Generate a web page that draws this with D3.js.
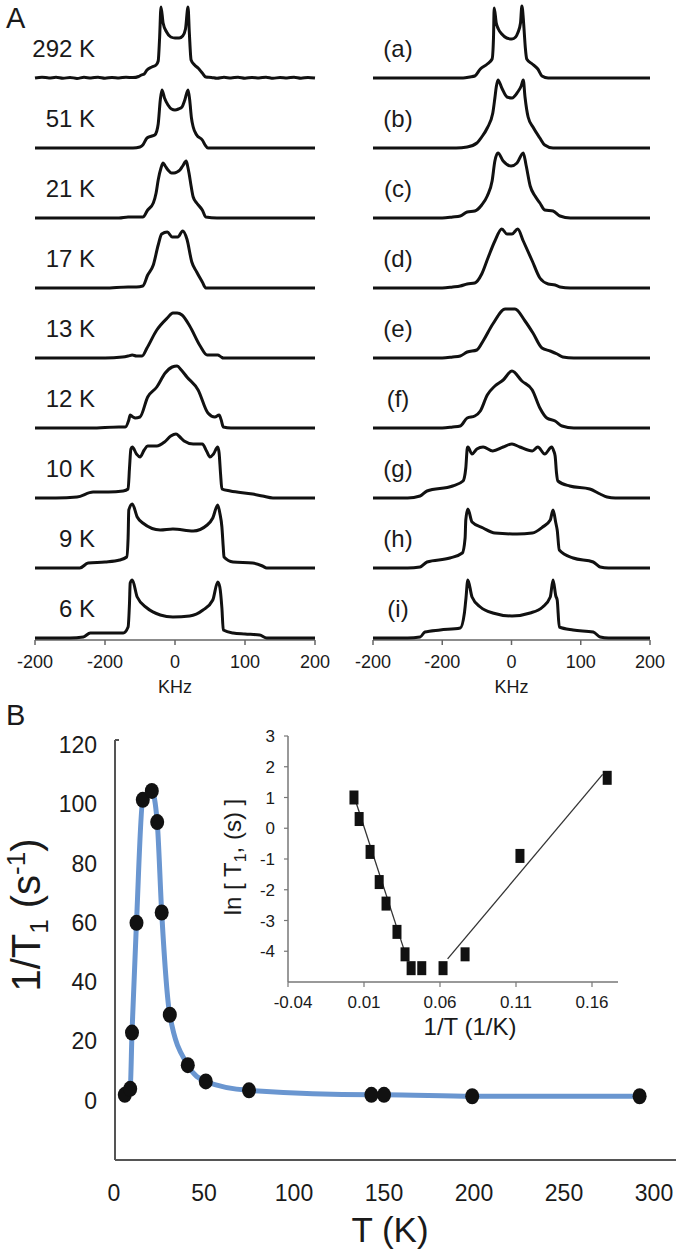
<!DOCTYPE html>
<html><head><meta charset="utf-8">
<script src="https://cdn.jsdelivr.net/npm/d3@7"></script>
<style>
body{margin:0;background:#fff}
svg{display:block}
text{font-family:"Liberation Sans",Arial,Helvetica,sans-serif;fill:#1a1a1a}
</style>
</head><body>
<svg id="c" width="680" height="1257"></svg>
<script>
// ---------- DATA ----------
const tempLabels = ["292 K","51 K","21 K","17 K","13 K","12 K","10 K","9 K","6 K"];
const simLabels = ["(a)","(b)","(c)","(d)","(e)","(f)","(g)","(h)","(i)"];
const kHzTicks = [-200,-100,0,100,200];
const kHzTickLabels = ["-200","-200","0","100","200"];
const kHzTitle = "KHz";

// experimental spectra: [frequency kHz, intensity a.u.]
const spec292 = [[-200,0],[-190,0.8],[-180,0],[-170,0.7],[-160,-0.3],[-150,0.6],[-140,-0.4],[-130,0.7],[-120,0],[-110,0.8],[-100,-0.2],[-90,0.6],[-80,0],[-70,0.8],[-60,0.4],[-52,1.5],[-48,3],[-44,4],[-40,8],[-33,11],[-27,13],[-24,17],[-22,40],[-20,71],[-17,55],[-12,46],[-6,41],[0,40],[6,40],[11,42],[15,49],[18.6,71],[20.5,45],[23,18],[28,13],[33,10],[39,5],[44,1],[52,0.6],[60,-0.3],[70,0.7],[80,0],[90,0.8],[100,-0.2],[110,0.6],[120,0],[130,0.8],[140,-0.3],[150,0.6],[160,0],[170,0.8],[180,-0.2],[190,0.6],[200,0]];
const spec51 = [[-200,0],[-150,0],[-100,0],[-60,0],[-50,1],[-46,3],[-40,10],[-33,12],[-29,13],[-26,17],[-24,24],[-21,48],[-18.6,58],[-15,50],[-10,43],[-5,39],[0,38],[5,39],[10,41],[14,48],[18.6,58],[21,48],[23.5,30],[26,21],[31,13],[39,8],[43,3],[47,0],[60,0],[100,0],[150,0],[200,0]];
const spec21 = [[-200,0],[-120,0],[-80,0],[-67,1],[-55,1],[-46,1],[-39,8],[-31,15],[-27,25],[-24,38],[-20,50],[-17,55],[-14,52],[-10,48],[-5,45],[-1.4,45],[3,46],[7,48],[11,52],[16,57],[18,52],[20,45],[23,32],[26,21],[31,15],[39,8],[44,1],[60,0],[100,0],[200,0]];
const spec17 = [[-200,0],[-100,0],[-67,1],[-55,1],[-46,2],[-39,13],[-31,23],[-24,43],[-19,54],[-11,56],[-4,51],[0,51],[4,51],[11,57],[17,49],[24,26],[31,16],[39,6],[44,0],[60,0],[200,0]];
const spec13 = [[-200,0],[-100,0],[-75,1],[-67,2],[-61,3],[-55,2],[-47,2],[-40,10],[-26,28],[-11,40],[-3,45],[3,45],[10,43],[21,32],[36,12],[46,3],[55,3],[61,3],[66,1],[69,0],[100,0],[200,0]];
const spec12 = [[-200,0],[-120,0],[-80,1],[-71,1],[-66,8],[-64,13],[-60,11],[-57,10],[-50,11],[-39,31],[-26,41],[-14,55],[-4,61],[3,62],[9,58],[17,51],[33,38],[47,15],[57,11],[63,13],[66,8],[69,1],[80,0],[120,0],[200,0]];
const spec10 = [[-200,0],[-170,0],[-140,1],[-117,6],[-95,6],[-74,7],[-67,9],[-65,30],[-63,49],[-61,51],[-55,44],[-50,41],[-44,48],[-39,52],[-26,52],[-15,56],[-6,62],[1.4,64],[7,61],[13,57],[26,54],[39,54],[45,47],[50,41],[55,44],[61,51],[63,45],[65,25],[67,9],[79,7],[111,4],[125,2],[140,0],[200,0]];
const spec9 = [[-200,0],[-150,0],[-136,0],[-124,5],[-100,6],[-79,8],[-69,11],[-67,30],[-66,58],[-61,64],[-54,51],[-46,45],[-21,38],[-3,39],[26,37],[46,43],[54,50],[61,63],[64,55],[67,41],[69,20],[70,11],[83,6],[111,5],[125,2],[131,0],[200,0]];
const spec6 = [[-200,0],[-150,0],[-131,1],[-121,5],[-100,5],[-74,5],[-67,11],[-65,35],[-64,55],[-61,58],[-54,41],[-40,30],[-21,23],[-3,21],[21,22],[40,28],[54,38],[61,56],[64,51],[67,30],[69,8],[83,5],[100,4],[121,3],[131,0],[200,0]];
const expSpectra = [spec292, spec51, spec21, spec17, spec13, spec12, spec10, spec9, spec6];

// simulated spectra
const simA = [[-200,0],[-100,0],[-70,0],[-60,1],[-53,2],[-45,9],[-35,14],[-28,19],[-26,40],[-25,70],[-22,55],[-19,49],[-14,44],[-7,40],[0.7,39],[6,41],[9,45],[13,55],[15,72],[17,60],[18,50],[20,30],[22,19],[30,14],[38,9],[44,2],[53,0],[100,0],[200,0]];
const simB = [[-200,0],[-100,0],[-80,0],[-64,1],[-50,5],[-43,11],[-35,20],[-27,35],[-24,50],[-22,61],[-19.5,68],[-14,60],[-6.5,51],[0.7,50],[9,56],[14,62],[17,68],[19.5,51],[24,31],[31,21],[41,10],[48,3],[60,0],[100,0],[200,0]];
const simC = [[-200,0],[-100,0],[-85,1],[-74,2],[-64,6],[-53,7],[-43,13],[-35,22],[-28,37],[-24,57],[-19.5,65],[-12,57],[-0.7,52],[8,55],[17,65],[21,53],[27,32],[34,22],[41,15],[48,8],[60,7],[70,2],[85,0],[200,0]];
const simD = [[-200,0],[-100,0],[-85,1],[-74,2],[-64,4],[-53,5],[-43,14],[-34,30],[-24,47],[-14,59],[-6.5,54],[0.7,54],[9,59],[17,47],[30,27],[41,10],[53,4],[63,3],[70,1],[85,0],[200,0]];
const simE = [[-200,0],[-100,0],[-85,1],[-74,2],[-64,6],[-50,8],[-41,17],[-27,34],[-9,49],[5,49],[19.5,37],[31,25],[44,10],[56,7],[66,4],[74,1],[90,0],[200,0]];
const simF = [[-200,0],[-100,0],[-85,1],[-74,2],[-64,10],[-53,12],[-45,17],[-35,33],[-24,42],[-12,48],[0.7,57],[15,47],[30,38],[41,20],[51,10],[63,7],[73,2],[90,0],[200,0]];
const simG = [[-200,0],[-150,0],[-132,2],[-122,7],[-85,12],[-70,17],[-66,30],[-64,49],[-63,51],[-57,44],[-50,49],[-41,51],[-27,47],[-12,51],[0.7,54],[12,51],[30,47],[38,51],[48,44],[58,51],[61,47],[63,42],[65,25],[67,17],[84,12],[113,9],[128,4],[138,1],[150,0],[200,0]];
const simH = [[-200,0],[-150,0],[-132,1],[-122,6],[-89,10],[-71,15],[-67,30],[-66,48],[-63,59],[-57,46],[-41,40],[-24,35],[8,34],[30,35],[45,41],[56,48],[60,58],[64,45],[66,38],[69,18],[89,10],[118,6],[128,1],[140,0],[200,0]];
const simI = [[-200,0],[-150,0],[-132,1],[-125,6],[-103,8],[-74,10],[-68,25],[-66,38],[-63,58],[-57,41],[-45,31],[-27,25],[0.7,22],[27,25],[45,31],[56,41],[60,58],[64,42],[66,38],[69,11],[89,8],[118,6],[128,1],[140,0],[200,0]];
const simSpectra = [simA, simB, simC, simD, simE, simF, simG, simH, simI];

// panel B main: T (K) vs 1/T1 (s^-1)
const tempK = [6, 9, 10, 12.5, 16, 21, 24, 26.5, 31, 41, 51, 75, 143, 150, 199, 292];
const invT1 = [2, 4, 23, 60, 101.5, 104.5, 94, 63.5, 29, 12, 6.5, 3.5, 2, 2, 1.5, 1.5];
const mainXTicks = [0,50,100,150,200,250,300];
const mainYTicks = [0,20,40,60,80,100,120];

// inset: 1/T (1/K) vs ln[T1 (s)]
const invT = [0.0034, 0.0068, 0.014, 0.020, 0.0245, 0.0317, 0.037, 0.041, 0.048, 0.062, 0.0765, 0.1126, 0.170];
const lnT1 = [1.0, 0.3, -0.77, -1.75, -2.45, -3.37, -4.1, -4.55, -4.55, -4.55, -4.1, -0.9, 1.64];
const fitLow = [[0.0034, 1.05], [0.038, -4.2]];
const fitHigh = [[0.065, -4.25], [0.167, 1.75]];
const insetXTicks = [-0.04, 0.01, 0.06, 0.11, 0.16];
const insetYTicks = [-4,-3,-2,-1,0,1,2,3];

// ---------- DRAW ----------
const svg = d3.select("#c");
svg.append("rect").attr("width",680).attr("height",1257).attr("fill","#fff");

// Panel letters
svg.append("text").attr("x",6).attr("y",28).attr("font-size",29).text("A");
svg.append("text").attr("x",6).attr("y",725).attr("font-size",29).text("B");

// ---- Panel A ----
const rowY = d3.scaleLinear().domain([0, 8]).range([78, 638]);
const hScale = d3.scaleLinear().domain([0, 70]).range([0, 70]);
const cols = [
  {x: d3.scaleLinear().domain([-200,200]).range([35,315]), data: expSpectra, labels: tempLabels, labelX: 95, anchor: "end"},
  {x: d3.scaleLinear().domain([-200,200]).range([373,650]), data: simSpectra, labels: simLabels, labelX: 398, anchor: "middle"}
];
const axYA = 640;
cols.forEach(c => {
  const g = svg.append("g");
  g.append("line").attr("x1", c.x(-200)).attr("x2", c.x(200)).attr("y1", axYA).attr("y2", axYA)
    .attr("stroke","#666").attr("stroke-width",1.5);
  kHzTicks.forEach((t,k) => {
    g.append("line").attr("x1", c.x(t)).attr("x2", c.x(t)).attr("y1", axYA).attr("y2", axYA+5)
      .attr("stroke","#666").attr("stroke-width",1.5);
    g.append("text").attr("x", c.x(t)).attr("y", axYA+28).attr("text-anchor","middle")
      .attr("font-size",18).text(kHzTickLabels[k]);
  });
  g.append("text").attr("x", c.x(0)).attr("y", axYA+53).attr("text-anchor","middle")
    .attr("font-size",18).text(kHzTitle);
  c.data.forEach((spec, i) => {
    const base = rowY(i);
    const line = d3.line().x(d => c.x(d[0])).y(d => base - hScale(d[1])).curve(d3.curveMonotoneX);
    g.append("path").attr("d", line(spec)).attr("fill","none").attr("stroke","#111")
      .attr("stroke-width",3).attr("stroke-linejoin","round");
    g.append("text").attr("x", c.labelX).attr("y", base - 21).attr("text-anchor", c.anchor)
      .attr("font-size",24).text(c.labels[i]);
  });
});

// ---- Panel B main ----
const xM = d3.scaleLinear().domain([0,300]).range([114,654]);
const yM = d3.scaleLinear().domain([-20,120]).range([1160,745]);
const gB = svg.append("g");
gB.append("line").attr("x1",115).attr("x2",115).attr("y1",740).attr("y2",yM(-20))
  .attr("stroke","#555").attr("stroke-width",2);
gB.append("line").attr("x1",115).attr("x2",119).attr("y1",740).attr("y2",740)
  .attr("stroke","#555").attr("stroke-width",2);
gB.append("line").attr("x1",115).attr("x2",676).attr("y1",yM(-20)).attr("y2",yM(-20))
  .attr("stroke","#555").attr("stroke-width",2);
mainYTicks.forEach(t => {
  gB.append("text").attr("x",97).attr("y",yM(t)+8).attr("text-anchor","end")
    .attr("font-size",23).text(t);
});
mainXTicks.forEach(t => {
  gB.append("text").attr("x",xM(t)).attr("y",1201).attr("text-anchor","middle")
    .attr("font-size",23).text(t);
});
gB.append("text").attr("x",390).attr("y",1242).attr("text-anchor","middle")
  .attr("font-size",35).text("T (K)");
const yl = gB.append("text").attr("transform","translate(40,915) rotate(-90)")
  .attr("text-anchor","middle").attr("font-size",40);
yl.append("tspan").text("1/T");
yl.append("tspan").attr("font-size",26).attr("dy",8).text("1");
yl.append("tspan").attr("dy",-8).text(" (s");
yl.append("tspan").attr("font-size",26).attr("dy",-15).text("-1");
yl.append("tspan").attr("dy",15).text(")");

const mainPts = tempK.map((t,i) => [t, invT1[i]]);
const blueLine = d3.line().x(d => xM(d[0])).y(d => yM(d[1])).curve(d3.curveMonotoneX);
gB.append("path").attr("d", blueLine(mainPts)).attr("fill","none")
  .attr("stroke","#6a96d0").attr("stroke-width",5).attr("stroke-linejoin","round");
gB.selectAll("ellipse.pt").data(mainPts).enter().append("ellipse")
  .attr("cx", d => xM(d[0])).attr("cy", d => yM(d[1])).attr("rx",7).attr("ry",8)
  .attr("fill","#111");

// ---- Inset ----
const xI = d3.scaleLinear().domain([-0.04,0.16]).range([288,592]);
const yI = d3.scaleLinear().domain([-5,3]).range([982,736]);
const gI = svg.append("g");
gI.append("line").attr("x1",xI(-0.04)).attr("x2",xI(-0.04)).attr("y1",yI(3)).attr("y2",yI(-5))
  .attr("stroke","#777").attr("stroke-width",1.5);
gI.append("line").attr("x1",xI(-0.04)).attr("x2",618).attr("y1",yI(-5)).attr("y2",yI(-5))
  .attr("stroke","#777").attr("stroke-width",1.5);
insetYTicks.forEach(t => {
  gI.append("line").attr("x1",xI(-0.04)-4).attr("x2",xI(-0.04)).attr("y1",yI(t)).attr("y2",yI(t))
    .attr("stroke","#777").attr("stroke-width",1.2);
  gI.append("text").attr("x",275).attr("y",yI(t)+6).attr("text-anchor","end")
    .attr("font-size",17).text(t);
});
insetXTicks.forEach(t => {
  gI.append("line").attr("x1",xI(t)).attr("x2",xI(t)).attr("y1",yI(-5)).attr("y2",yI(-5)+5)
    .attr("stroke","#777").attr("stroke-width",1.2);
  gI.append("text").attr("x",xI(t)+(t<0?5:0)).attr("y",1008).attr("text-anchor","middle")
    .attr("font-size",17).text(t);
});
gI.append("text").attr("x",470).attr("y",1035).attr("text-anchor","middle")
  .attr("font-size",24).text("1/T (1/K)");
const il = gI.append("text").attr("transform","translate(241,857) rotate(-90)")
  .attr("text-anchor","middle").attr("font-size",24);
il.append("tspan").text("ln [ T");
il.append("tspan").attr("font-size",16).attr("dy",5).text("1");
il.append("tspan").attr("dy",-5).text(", (s) ]");

const fitLine = d3.line().x(d => xI(d[0])).y(d => yI(d[1]));
[fitLow, fitHigh].forEach(f => {
  gI.append("path").attr("d", fitLine(f)).attr("fill","none").attr("stroke","#333").attr("stroke-width",1.3);
});
const insetPts = invT.map((v,i) => [v, lnT1[i]]);
gI.selectAll("rect.sq").data(insetPts).enter().append("rect")
  .attr("x", d => xI(d[0]) - 4.5).attr("y", d => yI(d[1]) - 7)
  .attr("width",9).attr("height",14).attr("fill","#111");
</script>
</body></html>
